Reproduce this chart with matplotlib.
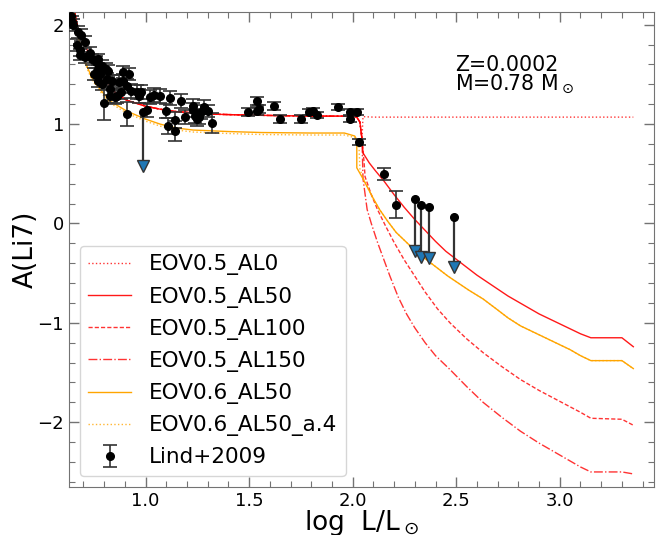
import numpy as np
import matplotlib
matplotlib.use('Agg')
import matplotlib.pyplot as plt
from matplotlib.ticker import MultipleLocator

# Lind+2009 detections: log L/Lsun, A(Li7), error
lind_x = [0.64, 0.645, 0.65, 0.675, 0.69, 0.67, 0.685, 0.71, 0.685, 0.71,
          0.73, 0.74, 0.76, 0.77, 0.77, 0.75, 0.79, 0.78, 0.81, 0.82,
          0.815, 0.77, 0.84, 0.79, 0.83, 0.855, 0.88, 0.87, 0.89, 0.89,
          0.92, 0.91, 0.93, 0.80, 0.91, 0.83, 0.86, 0.96, 0.98, 0.97,
          1.005, 1.02, 1.04, 1.07, 1.10, 1.12, 1.11, 1.14, 1.14, 1.17,
          1.19, 1.23, 1.23, 1.24, 1.25, 1.27, 1.26, 1.28, 1.30, 1.32,
          1.495, 1.54, 1.55, 1.54, 1.62, 1.65, 1.75, 1.79, 1.81, 1.83,
          1.93, 1.985, 2.02, 1.985, 2.03, 2.15, 2.21]
lind_y = [2.09, 2.03, 2.00, 1.93, 1.90, 1.80, 1.75, 1.83, 1.70, 1.67,
          1.72, 1.65, 1.62, 1.65, 1.55, 1.50, 1.58, 1.50, 1.55, 1.53,
          1.45, 1.43, 1.43, 1.40, 1.35, 1.27, 1.32, 1.42, 1.43, 1.52,
          1.50, 1.38, 1.33, 1.21, 1.10, 1.28, 1.28, 1.32, 1.32, 1.28,
          1.14, 1.27, 1.29, 1.28, 1.13, 1.26, 0.98, 1.04, 0.93, 1.23,
          1.07, 1.18, 1.14, 1.08, 1.05, 1.12, 1.07, 1.17, 1.13, 1.01,
          1.12, 1.23, 1.15, 1.13, 1.18, 1.05, 1.05, 1.12, 1.13, 1.09,
          1.17, 1.12, 1.12, 1.05, 0.82, 0.50, 0.19]
lind_err = [0.06, 0.06, 0.06, 0.06, 0.06, 0.06, 0.06, 0.06, 0.06, 0.06,
            0.06, 0.06, 0.06, 0.06, 0.06, 0.06, 0.06, 0.06, 0.06, 0.06,
            0.06, 0.06, 0.06, 0.06, 0.06, 0.07, 0.07, 0.07, 0.07, 0.06,
            0.06, 0.07, 0.07, 0.17, 0.12, 0.07, 0.07, 0.07, 0.07, 0.07,
            0.07, 0.07, 0.07, 0.07, 0.07, 0.07, 0.08, 0.08, 0.10, 0.07,
            0.07, 0.07, 0.07, 0.07, 0.07, 0.07, 0.07, 0.07, 0.06, 0.10,
            0.04, 0.04, 0.04, 0.04, 0.04, 0.04, 0.04, 0.03, 0.03, 0.03,
            0.03, 0.03, 0.03, 0.03, 0.03, 0.06, 0.14]

# upper limits
lim_x = [0.99, 2.30, 2.33, 2.37, 2.49]
lim_top = [1.12, 0.25, 0.19, 0.17, 0.07]
lim_val = [0.58, -0.28, -0.34, -0.35, -0.44]

# models
early_x = [0.655, 0.67, 0.69, 0.72, 0.75, 0.79, 0.83, 0.87, 0.91, 1.00,
           1.07, 1.15, 1.32, 1.50, 1.80, 2.00, 2.02, 2.035, 2.045]
early_y = [2.16, 2.00, 1.87, 1.74, 1.62, 1.48, 1.36, 1.29, 1.24, 1.18,
           1.15, 1.125, 1.10, 1.09, 1.08, 1.08, 1.07, 1.02, 0.85]

al0_x = [2.05, 2.10, 2.50, 3.00, 3.355]
al0_y = [1.075, 1.07, 1.07, 1.07, 1.07]

al50_x = [2.05, 2.08, 2.11, 2.15, 2.20, 2.25, 2.30, 2.35, 2.40, 2.45, 2.50,
          2.55, 2.60, 2.65, 2.70, 2.75, 2.80, 2.85, 2.90, 2.95, 3.00, 3.05,
          3.10, 3.15, 3.30, 3.355]
al50_y = [0.71, 0.61, 0.53, 0.43, 0.29, 0.16, 0.04, -0.07, -0.18, -0.28, -0.36,
          -0.44, -0.52, -0.59, -0.66, -0.73, -0.79, -0.85, -0.91, -0.96, -1.01,
          -1.06, -1.11, -1.15, -1.15, -1.24]

al100_x = [2.055, 2.06, 2.09, 2.12, 2.16, 2.20, 2.25, 2.30, 2.35, 2.41, 2.47,
           2.55, 2.63, 2.72, 2.81, 2.90, 3.00, 3.10, 3.15, 3.30, 3.355]
al100_y = [0.62, 0.47, 0.29, 0.14, -0.03, -0.19, -0.37, -0.53, -0.69, -0.86,
           -1.00, -1.16, -1.30, -1.44, -1.57, -1.68, -1.79, -1.90, -1.96,
           -1.97, -2.03]

al150_x = [2.05, 2.07, 2.09, 2.12, 2.15, 2.18, 2.22, 2.26, 2.30, 2.35, 2.40,
           2.47, 2.55, 2.63, 2.72, 2.81, 2.90, 3.00, 3.10, 3.15, 3.30, 3.355]
al150_y = [0.45, 0.14, 0.00, -0.19, -0.36, -0.53, -0.74, -0.91, -1.05, -1.20,
           -1.33, -1.47, -1.64, -1.80, -1.95, -2.09, -2.21, -2.33, -2.45,
           -2.50, -2.50, -2.52]

eov6_x = [0.655, 0.67, 0.69, 0.71, 0.74, 0.78, 0.83, 0.91, 1.00, 1.07, 1.15,
          1.23, 1.40, 1.56, 1.80, 1.96, 2.01, 2.02, 2.02, 2.05, 2.07, 2.10,
          2.13, 2.17, 2.21, 2.26, 2.31, 2.36, 2.41, 2.46, 2.51, 2.56, 2.63,
          2.70, 2.75, 2.81, 2.85, 2.90, 2.95, 3.00, 3.05, 3.10, 3.15, 3.30,
          3.355]
eov6_y = [2.13, 1.92, 1.75, 1.62, 1.47, 1.35, 1.23, 1.13, 1.05, 1.00, 0.96,
          0.94, 0.925, 0.915, 0.91, 0.91, 0.88, 0.84, 0.56, 0.45, 0.37, 0.25,
          0.14, 0.02, -0.09, -0.19, -0.29, -0.37, -0.45, -0.53, -0.60, -0.67,
          -0.76, -0.87, -0.95, -1.03, -1.07, -1.12, -1.17, -1.22, -1.27,
          -1.33, -1.38, -1.38, -1.46]

eov6a4_x = [0.655, 0.67, 0.69, 0.71, 0.74, 0.78, 0.83, 0.91, 1.00, 1.07, 1.15,
            1.23, 1.40, 1.56, 1.80, 1.96, 2.02, 2.03, 2.035, 2.05, 2.07, 2.10,
            2.13, 2.17, 2.21, 2.26, 2.31, 2.36, 2.41, 2.46, 2.51, 2.56, 2.63,
            2.70, 2.75, 2.81, 2.85, 2.90, 2.95, 3.00, 3.05, 3.10, 3.15, 3.30,
            3.355]
eov6a4_y = [2.12, 1.90, 1.73, 1.60, 1.45, 1.33, 1.21, 1.11, 1.03, 0.98, 0.94,
            0.92, 0.905, 0.895, 0.89, 0.89, 0.86, 0.80, 0.55, 0.46, 0.37, 0.25,
            0.14, 0.02, -0.09, -0.19, -0.29, -0.37, -0.45, -0.53, -0.60, -0.67,
            -0.76, -0.87, -0.95, -1.03, -1.07, -1.12, -1.17, -1.22, -1.27,
            -1.33, -1.38, -1.38, -1.46]


def main():
    fig = plt.figure(figsize=(6.56, 5.35), dpi=100)
    ax = fig.add_axes([0.105, 0.090, 0.892, 0.888])

    red = 'red'
    ax.plot(early_x + al0_x, early_y + al0_y, ':', color=red, lw=1.0, alpha=0.8,
            label='EOV0.5_AL0')
    ax.plot(early_x + al50_x, early_y + al50_y, '-', color=red, lw=1.0,
            alpha=0.9, label='EOV0.5_AL50')
    ax.plot(early_x + al100_x, early_y + al100_y, linestyle=(0, (3, 1.5)),
            color=red, lw=1.0, alpha=0.8, label='EOV0.5_AL100')
    ax.plot(early_x + al150_x, early_y + al150_y, '-.', color=red, lw=1.0,
            alpha=0.8, label='EOV0.5_AL150')
    ax.plot(eov6_x, eov6_y, '-', color='orange', lw=1.0, label='EOV0.6_AL50')
    ax.plot(eov6a4_x, eov6a4_y, ':', color='orange', lw=1.0, alpha=0.8,
            label='EOV0.6_AL50_a.4')

    ax.errorbar(lind_x, lind_y, yerr=lind_err, fmt='o', color='k', ms=5.5,
                ecolor='0.2', elinewidth=1.2, capsize=5, capthick=1.2,
                label='Lind+2009', zorder=5)

    for xx, top, val in zip(lim_x, lim_top, lim_val):
        ax.plot([xx, xx], [top, val], '-', color='0.2', lw=1.6, zorder=4)
        ax.plot([xx], [top], 'o', color='k', ms=5.5, zorder=6)
    ax.plot(lim_x, lim_val, 'v', color='#1f77b4', mec='0.2', ms=8, zorder=6)

    ax.set_xlim(0.63, 3.455)
    ax.set_ylim(-2.65, 2.13)
    ax.xaxis.set_major_locator(MultipleLocator(0.5))
    ax.xaxis.set_minor_locator(MultipleLocator(0.1))
    ax.yaxis.set_major_locator(MultipleLocator(1))
    ax.yaxis.set_minor_locator(MultipleLocator(0.2))
    ax.tick_params(which='both', direction='in', top=True, right=True,
                   color='0.45', labelsize=13)
    ax.tick_params(which='major', length=7, width=1)
    ax.tick_params(which='minor', length=4, width=0.8)
    for sp in ax.spines.values():
        sp.set_color('0.45')

    ax.set_xlabel(r'log  L/L$_\odot$', fontsize=19, labelpad=-1)
    ax.set_ylabel('A(Li7)', fontsize=19, labelpad=-1)

    ax.text(0.66, 0.91, 'Z=0.0002\nM=0.78 M$_\\odot$', transform=ax.transAxes,
            fontsize=14.8, va='top', ha='left', linespacing=0.85)

    ax.legend(loc='lower left', fontsize=15.5, labelspacing=0.52,
              handlelength=2.0)

    fig.savefig('out.png', dpi=100)


if __name__ == "__main__":
    main()
